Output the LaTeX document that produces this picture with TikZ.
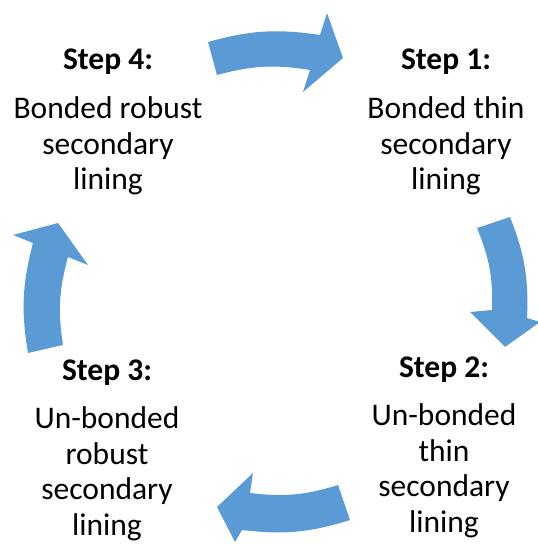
\documentclass[tikz,border=0pt]{standalone}
\usepackage{fontspec}
\setmainfont{Carlito}
\usetikzlibrary{positioning}
\definecolor{cycleblue}{RGB}{91,155,213}

\begin{document}
\begin{tikzpicture}[x=0.5pt,y=0.5pt]

% used shapes
\tikzstyle{stephead} = [font=\fontsize{15.75}{18}\selectfont\bfseries, inner sep=0pt, anchor=base]
\tikzstyle{stepbody} = [font=\fontsize{15.75}{17.8}\selectfont, inner sep=0pt, align=center, node distance=10.5pt]
\tikzstyle{cyclearrow} = [fill=cycleblue]

\useasboundingbox (0,0) rectangle (537,-544);

% the four steps
\node [stephead] (head4) at (108,-70) {Step 4:};
\node [stepbody, below=of head4] (body4) {Bonded robust\\secondary\\lining};

\node [stephead] (head1) at (446,-70) {Step 1:};
\node [stepbody, below=of head1] (body1) {Bonded thin\\secondary\\lining};

\node [stephead] (head2) at (444,-377) {Step 2:};
\node [stepbody, below=of head2] (body2) {Un-bonded\\thin\\secondary\\lining};

\node [stephead] (head3) at (107,-380) {Step 3:};
\node [stepbody, below=of head3] (body3) {Un-bonded\\robust\\secondary\\lining};

% curved arrows, clockwise
\fill [cyclearrow] (208,-42) to[bend left=12] (320,-35) -- (327,-13) -- (343,-58)
  -- (303,-92) -- (310,-70) to[bend right=12] (217,-75) -- cycle;

\fill [cyclearrow] (510,-217) to[bend left=12] (527,-318) -- (540,-322) -- (505,-347)
  -- (470,-312) -- (492,-310) to[bend right=12] (477,-228) -- cycle;

\fill [cyclearrow] (350,-520) to[bend left=12] (242,-530) -- (235,-542) -- (217,-507)
  -- (253,-473) -- (250,-493) to[bend right=12] (338,-485) -- cycle;

\fill [cyclearrow] (28,-353) to[bend left=12] (33,-243) -- (13,-235) -- (58,-223)
  -- (88,-265) -- (68,-257) to[bend right=12] (63,-345) -- cycle;

\end{tikzpicture}
\end{document}
